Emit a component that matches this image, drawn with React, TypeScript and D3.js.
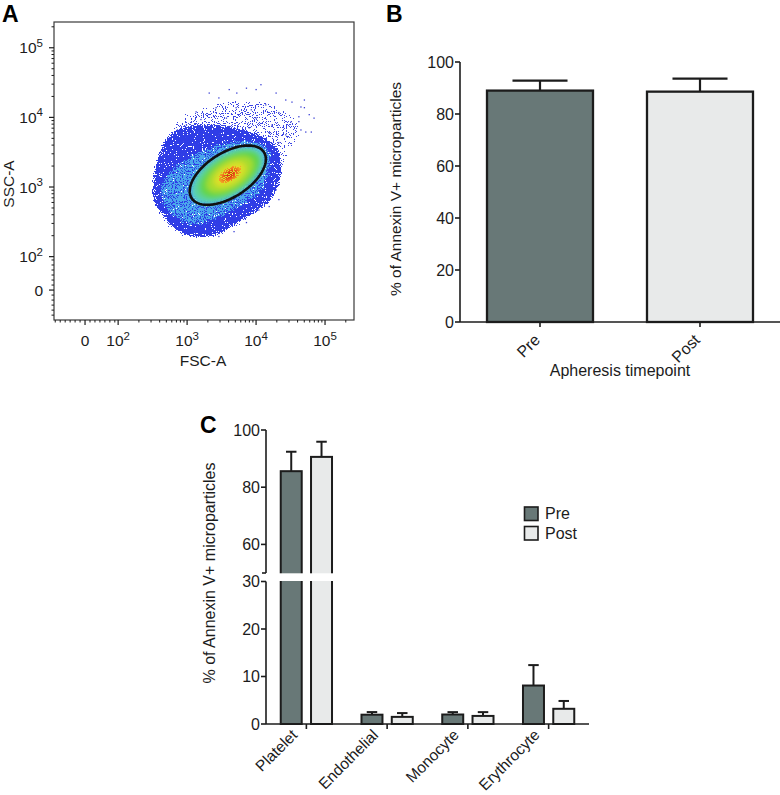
import React from "react";
import * as d3 from "d3";

const FONT = "'Liberation Sans', Arial, Helvetica, sans-serif";
const INK = "#1c1c1c";

// ---------- Panel A: flow cytometry (coordinates in log10 units of FSC-A / SSC-A)
const scatterTickValues = [0, 1e2, 1e3, 1e4, 1e5];
const scatterTickExponents = ["", "2", "3", "4", "5"];

const outerFringe: [number, number][] = [
  [2.59, 3.54], [2.81, 3.99], [3.17, 4.18], [3.75, 4.32], [4.26, 4.25], [4.62, 4.04],
  [4.7, 3.75], [4.48, 3.39], [4.38, 3.03], [4.26, 2.75], [3.9, 2.46], [3.46, 2.24],
  [3.1, 2.22], [2.74, 2.32], [2.48, 2.67], [2.46, 3.1],
];
const denseBlob: [number, number][] = [
  [2.49, 2.82], [2.49, 3.06], [2.55, 3.39], [2.67, 3.68], [2.88, 3.85], [3.32, 3.91],
  [3.75, 3.85], [4.07, 3.75], [4.29, 3.61], [4.38, 3.39], [4.36, 3.1], [4.26, 2.86],
  [4.07, 2.67], [3.83, 2.53], [3.61, 2.39], [3.39, 2.29], [3.1, 2.27], [2.88, 2.34],
  [2.71, 2.5], [2.57, 2.67],
];
const cyanZone: [number, number][] = [
  [2.59, 3.03], [2.81, 3.32], [3.17, 3.54], [3.61, 3.68], [4.04, 3.68], [4.22, 3.54],
  [4.22, 3.18], [4.07, 2.89], [3.75, 2.67], [3.39, 2.5], [3.1, 2.42], [2.81, 2.53], [2.62, 2.75],
];
const gateCenter = [3.59, 3.17];
const gateRadii = [0.62, 0.32];
const gateAngleDeg = 32;
const coreCenter = [3.62, 3.18];
const coreScales = [1.0, 0.92, 0.8, 0.62, 0.42, 0.3, 0.2, 0.1];
const coreColors = ["#56c8e2", "#5ad2a0", "#62d44a", "#a6dc2e", "#dcdf2c", "#f2aa26", "#ec5a1a", "#d62a12"];
const sparseEvents: [number, number][] = [
  [3.32, 4.35], [3.46, 4.28], [3.61, 4.4], [3.72, 4.35], [3.86, 4.42], [4.0, 4.4], [4.07, 4.47],
  [4.29, 4.35], [4.43, 4.25], [4.52, 4.22], [4.65, 4.15], [4.7, 4.14], [3.42, 4.14], [3.71, 4.14],
  [3.93, 4.11], [4.14, 4.18], [4.33, 4.07], [4.51, 3.94], [4.62, 4.01], [4.72, 3.79], [4.65, 3.82],
  [3.13, 4.08], [3.2, 3.97], [3.57, 3.99], [4.0, 3.99], [4.23, 3.89], [4.43, 3.75], [4.33, 3.64],
  [2.99, 3.89], [2.86, 3.82], [3.17, 3.82], [3.9, 3.85], [3.61, 3.87], [4.19, 3.78],
  [4.29, 2.96], [4.33, 2.82], [4.19, 2.72], [4.04, 2.67], [3.86, 2.49], [3.68, 2.36], [3.46, 2.29],
  [4.77, 4.04], [4.8, 3.79], [4.84, 3.99], [4.7, 4.25], [4.62, 3.94],
];

// ---------- Panel B
const timepoints = ["Pre", "Post"];
const totalMean = [89.0, 88.6];
const totalSem = [3.8, 5.0];
const bTicks = [0, 20, 40, 60, 80, 100];

// ---------- Panel C
const cellTypes = ["Platelet", "Endothelial", "Monocyte", "Erythrocyte"];
const preMean = [85.6, 1.96, 2.0, 8.1];
const preSem = [6.8, 0.55, 0.5, 4.3];
const postMean = [90.6, 1.5, 1.7, 3.2];
const postSem = [5.3, 0.8, 0.8, 1.65];
const cTicksUpper = [60, 80, 100];
const cTicksLower = [0, 10, 20, 30];

const PRE_FILL = "#687877";
const POST_FILL = "#e8eaea";
const Y_TITLE = "% of Annexin V+ microparticles";

const toT = (v: number) => (v >= 100 ? Math.log10(v) : 1.52 + 0.0048 * v);

function ellipsePts(c: number[], r: number[], angleDeg: number, s: number): [number, number][] {
  const th = (angleDeg * Math.PI) / 180;
  return d3.range(0, 72).map((i) => {
    const a = (i / 72) * 2 * Math.PI;
    const ux = r[0] * s * Math.cos(a);
    const uy = r[1] * s * Math.sin(a);
    return [c[0] + ux * Math.cos(th) - uy * Math.sin(th), c[1] + ux * Math.sin(th) + uy * Math.cos(th)];
  });
}

function Speckle({ id, seed, blur, zeros }: { id: string; seed: number; blur: number; zeros: number }) {
  const table = d3.range(20).map((i) => (i < zeros ? 0 : 1)).join(" ");
  return (
    <filter id={id} filterUnits="userSpaceOnUse" x={0} y={0} width={400} height={400} colorInterpolationFilters="sRGB">
      <feTurbulence type="fractalNoise" baseFrequency="0.9" numOctaves={1} seed={seed} result="noise" />
      <feColorMatrix in="noise" type="matrix" values="0 0 0 0 0  0 0 0 0 0  0 0 0 0 0  1 0 0 0 0" result="na" />
      <feGaussianBlur in="SourceGraphic" stdDeviation={blur} result="soft" />
      <feComposite in="soft" in2="na" operator="in" result="mix" />
      <feComponentTransfer in="mix">
        <feFuncA type="discrete" tableValues={table} />
      </feComponentTransfer>
    </filter>
  );
}

function PanelA() {
  const xA = d3.scaleLinear().domain([1.07, 5.42]).range([54, 354]);
  const yA = d3.scaleLinear().domain([1.09, 5.37]).range([320, 22]);
  const blobLine = d3
    .line<[number, number]>()
    .x((d) => xA(d[0]))
    .y((d) => yA(d[1]))
    .curve(d3.curveCatmullRomClosed.alpha(0.5));
  const ellLine = d3
    .line<[number, number]>()
    .x((d) => xA(d[0]))
    .y((d) => yA(d[1]))
    .curve(d3.curveLinearClosed);

  const minor: number[] = [];
  for (let k = 2; k <= 5; k++) for (let m = 2; m <= 9; m++) minor.push(m * Math.pow(10, k));
  for (let v = -90; v <= 90; v += 15) if (v !== 0) minor.push(v);
  const minorX = minor.filter((v) => toT(v) >= 1.07 && toT(v) <= 5.42);
  const minorY = minor.filter((v) => toT(v) >= 1.09 && toT(v) <= 5.37);

  const label = (i: number) =>
    scatterTickExponents[i] === "" ? (
      <tspan>0</tspan>
    ) : (
      <>
        <tspan>10</tspan>
        <tspan dy={-6.5} fontSize={11.5}>
          {scatterTickExponents[i]}
        </tspan>
      </>
    );

  return (
    <g>
      <defs>
        <clipPath id="clipA">
          <rect x={54} y={22} width={300} height={298} />
        </clipPath>
        <Speckle id="spkDense" seed={4} blur={2.5} zeros={7} />
        <Speckle id="spkMid" seed={11} blur={3} zeros={9} />
        <Speckle id="spkCore" seed={17} blur={1.5} zeros={9} />
        <Speckle id="spkSparse" seed={23} blur={5} zeros={12} />
        <filter id="coreSoft" x="-30%" y="-30%" width="160%" height="160%">
          <feGaussianBlur stdDeviation={2.4} />
        </filter>
      </defs>

      <g clipPath="url(#clipA)">
        <path d={blobLine(outerFringe) || ""} fill="#3c46e4" filter="url(#spkSparse)" />
        <path d={blobLine(denseBlob) || ""} fill="#2f3de6" filter="url(#spkDense)" />
        <path d={blobLine(cyanZone) || ""} fill="#4aa6ec" filter="url(#spkMid)" />
        <g filter="url(#coreSoft)">
          {coreScales.slice(0, 5).map((s, i) => (
            <path
              key={i}
              d={ellLine(ellipsePts(i < 2 ? gateCenter : coreCenter, gateRadii, gateAngleDeg, s)) || ""}
              fill={coreColors[i]}
            />
          ))}
        </g>
        <g filter="url(#spkCore)">
          {coreScales.slice(5).map((s, i) => (
            <path key={i} d={ellLine(ellipsePts(coreCenter, gateRadii, gateAngleDeg, s * 1.15)) || ""} fill={coreColors[i + 5]} />
          ))}
        </g>
        {sparseEvents.map((p, i) => (
          <rect key={i} x={xA(p[0]) - 0.6} y={yA(p[1]) - 0.6} width={1.3} height={1.3} fill="#3a40d4" />
        ))}
        <path
          d={ellLine(ellipsePts(gateCenter, gateRadii, gateAngleDeg, 1)) || ""}
          fill="none"
          stroke="#111"
          strokeWidth={2.6}
        />
      </g>

      <rect x={54} y={22} width={300} height={298} fill="none" stroke="#3a3a3a" strokeWidth={1.2} />

      {/* y ticks */}
      {minorY.map((v, i) => (
        <line key={"my" + i} x1={51.5} x2={54} y1={yA(toT(v))} y2={yA(toT(v))} stroke={INK} strokeWidth={1} />
      ))}
      {scatterTickValues.map((v, i) => (
        <g key={"Y" + i}>
          <line x1={49} x2={54} y1={yA(toT(v))} y2={yA(toT(v))} stroke={INK} strokeWidth={1.2} />
          <text x={43} y={yA(toT(v)) + 5.5} textAnchor="end" fontSize={15.5} fontFamily={FONT} fill={INK}>
            {label(i)}
          </text>
        </g>
      ))}
      {/* x ticks */}
      {minorX.map((v, i) => (
        <line key={"mx" + i} y1={320} y2={322.5} x1={xA(toT(v))} x2={xA(toT(v))} stroke={INK} strokeWidth={1} />
      ))}
      {scatterTickValues.map((v, i) => (
        <g key={"X" + i}>
          <line y1={320} y2={325} x1={xA(toT(v))} x2={xA(toT(v))} stroke={INK} strokeWidth={1.2} />
          <text x={xA(toT(v))} y={346} textAnchor="middle" fontSize={15.5} fontFamily={FONT} fill={INK}>
            {label(i)}
          </text>
        </g>
      ))}
      <text x={203} y={366} textAnchor="middle" fontSize={15.5} fontFamily={FONT} fill={INK}>
        FSC-A
      </text>
      <text transform="translate(14,184) rotate(-90)" textAnchor="middle" fontSize={15.5} fontFamily={FONT} fill={INK}>
        SSC-A
      </text>
      <text x={2} y={22} fontSize={23} fontWeight="bold" fontFamily={FONT} fill="#000">
        A
      </text>
    </g>
  );
}

function PanelB() {
  const yB = d3.scaleLinear().domain([0, 100]).range([322, 62]);
  const xB = d3.scaleBand<string>().domain(timepoints).range([460, 780]).padding(0);
  const bw = xB.bandwidth() * 0.6625;
  const cap = xB.bandwidth() * 0.172;
  const fills = [PRE_FILL, POST_FILL];
  return (
    <g>
      {timepoints.map((t, i) => {
        const cx = (xB(t) || 0) + xB.bandwidth() / 2;
        const top = yB(totalMean[i]);
        const et = yB(totalMean[i] + totalSem[i]);
        return (
          <g key={t}>
            <line x1={cx} x2={cx} y1={top} y2={et} stroke={INK} strokeWidth={2.2} />
            <line x1={cx - cap} x2={cx + cap} y1={et} y2={et} stroke={INK} strokeWidth={2.2} />
            <rect x={cx - bw / 2} y={top} width={bw} height={yB(0) - top} fill={fills[i]} stroke={INK} strokeWidth={2.3} />
            <line x1={cx} x2={cx} y1={yB(0)} y2={yB(0) + 5} stroke={INK} strokeWidth={1.6} />
            <text
              transform={`translate(${cx + 1},${yB(0) + 19}) rotate(-45)`}
              textAnchor="end"
              fontSize={16}
              fontFamily={FONT}
              fill={INK}
            >
              {t}
            </text>
          </g>
        );
      })}
      <line x1={460} x2={460} y1={yB(100)} y2={yB(0)} stroke={INK} strokeWidth={1.6} />
      <line x1={460} x2={780} y1={yB(0)} y2={yB(0)} stroke={INK} strokeWidth={1.6} />
      {bTicks.map((t) => (
        <g key={t}>
          <line x1={455} x2={460} y1={yB(t)} y2={yB(t)} stroke={INK} strokeWidth={1.6} />
          <text x={454} y={yB(t) + 5.7} textAnchor="end" fontSize={16} fontFamily={FONT} fill={INK}>
            {t}
          </text>
        </g>
      ))}
      <text x={620} y={376} textAnchor="middle" fontSize={16} fontFamily={FONT} fill={INK}>
        Apheresis timepoint
      </text>
      <text transform="translate(401,189) rotate(-90)" textAnchor="middle" fontSize={15.5} fontFamily={FONT} fill={INK}>
        {Y_TITLE}
      </text>
      <text x={386} y={22} fontSize={23} fontWeight="bold" fontFamily={FONT} fill="#000">
        B
      </text>
    </g>
  );
}

function PanelC() {
  const yC = d3.scaleLinear().domain([0, 30, 50, 100]).range([724, 581.5, 573, 430]);
  const xC = d3.scaleBand<string>().domain(cellTypes).range([266, 589]).padding(0);
  const span = xC.bandwidth() * 0.635;
  const sub = d3.scaleBand<string>().domain(["Pre", "Post"]).range([-span / 2, span / 2]).paddingInner(0.307);
  const cap = sub.bandwidth() * 0.25;
  const series = [
    { key: "Pre", mean: preMean, sem: preSem, fill: PRE_FILL },
    { key: "Post", mean: postMean, sem: postSem, fill: POST_FILL },
  ];
  return (
    <g>
      {cellTypes.map((c, ci) => {
        const gx = (xC(c) || 0) + xC.bandwidth() / 2;
        return (
          <g key={c}>
            {series.map((s) => {
              const x0 = gx + (sub(s.key) || 0);
              const cx = x0 + sub.bandwidth() / 2;
              const top = yC(s.mean[ci]);
              const et = yC(s.mean[ci] + s.sem[ci]);
              return (
                <g key={s.key}>
                  <line x1={cx} x2={cx} y1={top} y2={et} stroke={INK} strokeWidth={2} />
                  <line x1={cx - cap} x2={cx + cap} y1={et} y2={et} stroke={INK} strokeWidth={2} />
                  <rect x={x0} y={top} width={sub.bandwidth()} height={yC(0) - top} fill={s.fill} stroke={INK} strokeWidth={2} />
                </g>
              );
            })}
            <line x1={gx} x2={gx} y1={yC(0)} y2={yC(0) + 5} stroke={INK} strokeWidth={1.6} />
            <text
              transform={`translate(${gx - 8},${yC(0) + 12}) rotate(-45)`}
              textAnchor="end"
              fontSize={15.5}
              fontFamily={FONT}
              fill={INK}
            >
              {c}
            </text>
          </g>
        );
      })}
      {/* axis break gap */}
      <rect x={268} y={yC(50) + 0.3} width={330} height={yC(30) - yC(50) - 0.8} fill="#fff" />
      <line x1={266} x2={266} y1={yC(100)} y2={yC(50)} stroke={INK} strokeWidth={1.6} />
      <line x1={266} x2={266} y1={yC(30)} y2={yC(0)} stroke={INK} strokeWidth={1.6} />
      <line x1={262} x2={266} y1={yC(50)} y2={yC(50)} stroke={INK} strokeWidth={1.6} />
      <line x1={266} x2={589} y1={yC(0)} y2={yC(0)} stroke={INK} strokeWidth={1.6} />
      {[...cTicksUpper, ...cTicksLower].map((t) => (
        <g key={t}>
          <line x1={261} x2={266} y1={yC(t)} y2={yC(t)} stroke={INK} strokeWidth={1.6} />
          <text x={260} y={yC(t) + 5.7} textAnchor="end" fontSize={16} fontFamily={FONT} fill={INK}>
            {t}
          </text>
        </g>
      ))}
      {series.map((s, i) => (
        <g key={s.key}>
          <rect x={524.5} y={507 + i * 19.5} width={13.5} height={13.5} fill={s.fill} stroke={INK} strokeWidth={1.6} />
          <text x={545} y={519 + i * 19.5} fontSize={16} fontFamily={FONT} fill={INK}>
            {s.key}
          </text>
        </g>
      ))}
      <text transform="translate(215,573) rotate(-90)" textAnchor="middle" fontSize={16} fontFamily={FONT} fill={INK}>
        {Y_TITLE}
      </text>
      <text x={200} y={433} fontSize={23} fontWeight="bold" fontFamily={FONT} fill="#000">
        C
      </text>
    </g>
  );
}

export default function App() {
  return (
    <svg
      width={780}
      height={795}
      viewBox="0 0 780 795"
      style={{ position: "absolute", left: 0, top: 0, background: "#fff", display: "block" }}
    >
      <rect width={780} height={795} fill="#fff" />
      <PanelA />
      <PanelB />
      <PanelC />
    </svg>
  );
}
